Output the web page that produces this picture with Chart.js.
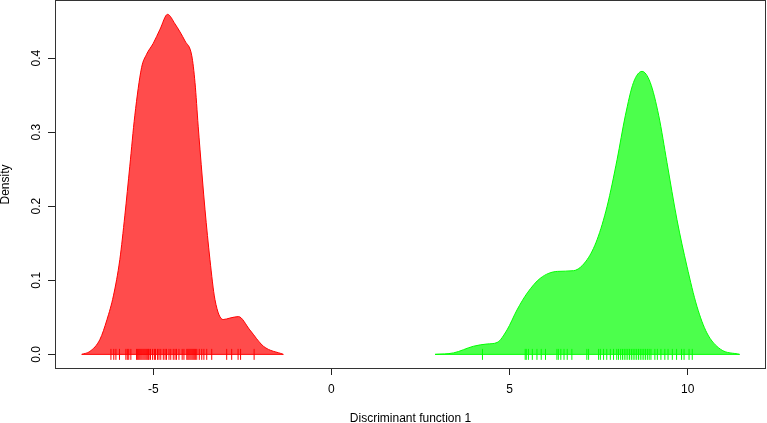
<!DOCTYPE html>
<html>
<head>
<meta charset="utf-8">
<title>Discriminant function density</title>
<script src="https://cdn.jsdelivr.net/npm/chart.js@4.4.1/dist/chart.umd.min.js"></script>
<style>
  body { margin: 0; background: #fff; }
  canvas { display: block; }
</style>
</head>
<body>
<canvas id="chart" width="767" height="423"></canvas>
<script>
// density curve of group 1 (red)
const redX = [-7.01, -6.78, -6.50, -6.30, -6.12, -5.94, -5.80, -5.66, -5.52, -5.33, -5.19, -5.00, -4.81, -4.60, -4.39, -4.11, -3.92, -3.83, -3.74, -3.69, -3.55, -3.41, -3.27, -3.04, -2.85, -2.61, -2.29, -1.91, -1.35];
const redY = [0.000, 0.004, 0.020, 0.047, 0.079, 0.128, 0.187, 0.254, 0.322, 0.387, 0.405, 0.420, 0.439, 0.459, 0.446, 0.423, 0.403, 0.367, 0.308, 0.277, 0.196, 0.128, 0.074, 0.047, 0.049, 0.051, 0.033, 0.011, 0.000];

// density curve of group 2 (green)
const greenX = [2.91, 3.43, 3.99, 4.37, 4.65, 4.93, 5.21, 5.50, 5.87, 6.34, 6.80, 7.18, 7.46, 7.74, 8.02, 8.25, 8.48, 8.72, 8.95, 9.19, 9.42, 9.70, 9.98, 10.26, 10.54, 10.92, 11.46];
const greenY = [0.000, 0.002, 0.011, 0.014, 0.016, 0.033, 0.060, 0.083, 0.103, 0.112, 0.113, 0.128, 0.155, 0.200, 0.263, 0.322, 0.367, 0.382, 0.367, 0.322, 0.259, 0.182, 0.119, 0.065, 0.029, 0.007, 0.000];

// rug marks (individual scores)
const redRug = [-6.19, -6.11, -6.05, -5.95, -5.77, -5.73, -5.69, -5.63, -5.47, -5.44, -5.41, -5.38, -5.35, -5.32, -5.29, -5.26, -5.23, -5.20, -5.17, -5.14, -5.12, -5.08, -5.02, -4.97, -4.94, -4.88, -4.84, -4.79, -4.72, -4.67, -4.63, -4.56, -4.51, -4.44, -4.39, -4.35, -4.28, -4.19, -4.14, -4.06, -4.03, -4.00, -3.97, -3.94, -3.91, -3.88, -3.85, -3.82, -3.78, -3.71, -3.64, -3.58, -3.50, -3.36, -2.94, -2.80, -2.62, -2.55, -2.17];
const greenRug = [4.24, 5.44, 5.47, 5.53, 5.64, 5.77, 5.89, 6.01, 6.33, 6.37, 6.44, 6.53, 6.62, 6.75, 7.17, 7.22, 7.50, 7.55, 7.64, 7.73, 7.83, 7.92, 8.01, 8.06, 8.12, 8.17, 8.22, 8.27, 8.32, 8.37, 8.42, 8.47, 8.52, 8.57, 8.62, 8.67, 8.72, 8.77, 8.82, 8.87, 8.92, 8.97, 9.08, 9.15, 9.25, 9.36, 9.45, 9.57, 9.69, 9.83, 9.90, 10.04, 10.13];

// axis ticks
const xTicks = [-5, 0, 5, 10];
const yTicks = [0, 0.1, 0.2, 0.3, 0.4];

const toPoints = (xs, ys) => xs.map((x, i) => ({ x: x, y: ys[i] }));
const rugPoints = xs => xs.map(x => ({ x: x, y: 0 }));
const baseLine = xs => [{ x: xs[0], y: 0 }, { x: xs[xs.length - 1], y: 0 }];

// box round the plot region, like R's bty="o"
const boxPlugin = {
    id: 'box',
    afterDraw(chart) {
        const a = chart.chartArea;
        const ctx = chart.ctx;
        ctx.save();
        ctx.strokeStyle = '#333';
        ctx.lineWidth = 1;
        ctx.strokeRect(Math.round(a.left) + 0.5, Math.round(a.top) - 0.5, Math.round(a.right - a.left) - 1, Math.round(a.bottom - a.top) + 1);
        ctx.restore();
    }
};

const font = { family: "'Liberation Sans', Arial, sans-serif", size: 12 };

function curve(xs, ys, line, fillColor) {
    return {
        type: 'line',
        data: toPoints(xs, ys),
        borderColor: line,
        backgroundColor: fillColor,
        borderWidth: 1,
        fill: 'origin',
        pointRadius: 0,
        cubicInterpolationMode: 'monotone'
    };
}

function base(xs, line) {
    return {
        type: 'line',
        data: baseLine(xs),
        borderColor: line,
        borderWidth: 1,
        fill: false,
        pointRadius: 0
    };
}

function rug(xs, line) {
    return {
        type: 'scatter',
        data: rugPoints(xs),
        borderColor: line,
        backgroundColor: line,
        borderWidth: 1,
        pointStyle: 'line',
        rotation: 90,
        pointRadius: 5.5,
        pointHoverRadius: 5.5
    };
}

new Chart(document.getElementById('chart').getContext('2d'), {
    type: 'line',
    data: {
        datasets: [
            curve(redX, redY, '#ff0000', 'rgba(255,0,0,0.7)'),
            base(redX, '#ff0000'),
            curve(greenX, greenY, '#00ff00', 'rgba(0,255,0,0.7)'),
            base(greenX, '#00ff00'),
            rug(redRug, '#ff0000'),
            rug(greenRug, '#00ff00')
        ]
    },
    options: {
        responsive: false,
        animation: false,
        devicePixelRatio: 1,
        layout: { autoPadding: false, padding: { top: 1, right: 1, bottom: 0, left: 0 } },
        plugins: { legend: { display: false }, tooltip: { enabled: false } },
        scales: {
            x: {
                type: 'linear',
                min: -7.76,
                max: 12.2,
                afterBuildTicks: s => { s.ticks = xTicks.map(v => ({ value: v })); },
                afterFit: s => { s.height = 55; s.paddingLeft = 0; s.paddingRight = 0; },
                border: { display: false },
                grid: { drawOnChartArea: false, drawTicks: true, tickLength: 7, color: '#222' },
                ticks: { font: font, color: '#000', padding: 7, maxRotation: 0 },
                title: { display: true, text: 'Discriminant function 1', font: { family: font.family, size: 12, lineHeight: 0.8 }, color: '#000', padding: 0 }
            },
            y: {
                type: 'linear',
                min: -0.0184,
                max: 0.477,
                afterBuildTicks: s => { s.ticks = yTicks.map(v => ({ value: v })); },
                afterFit: s => { s.width = 55; s.paddingTop = 0; s.paddingBottom = 0; },
                border: { display: false },
                grid: { drawOnChartArea: false, drawTicks: true, tickLength: 7, color: '#222' },
                ticks: {
                    font: font, color: '#000', padding: 3,
                    minRotation: 90, maxRotation: 90, crossAlign: 'center',
                    callback: v => v.toFixed(1)
                },
                title: { display: true, text: 'Density', font: { family: font.family, size: 12, lineHeight: 1 }, color: '#000', padding: 0 }
            }
        }
    },
    plugins: [boxPlugin]
});
</script>
</body>
</html>
